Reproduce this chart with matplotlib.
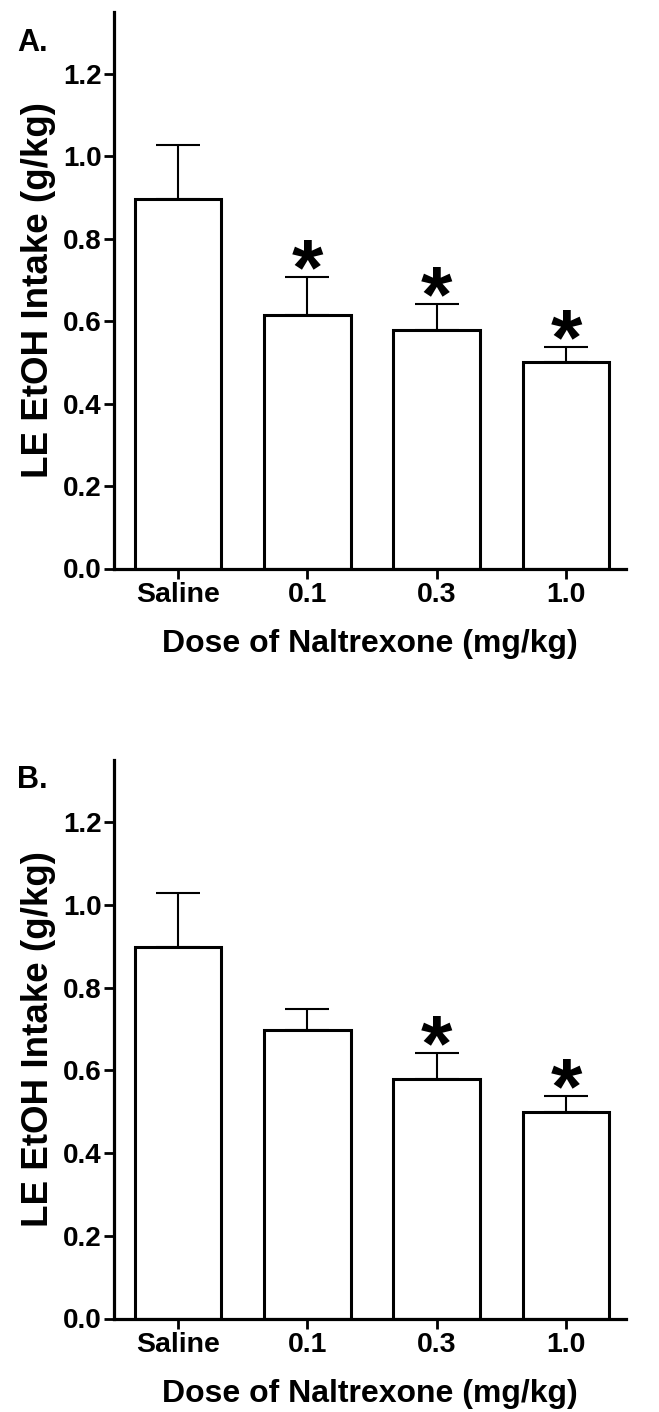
import matplotlib
matplotlib.use("Agg")
import matplotlib.pyplot as plt
import matplotlib.transforms as mtransforms
from matplotlib.textpath import TextPath
from matplotlib.font_manager import FontProperties
import numpy as np

plt.rcParams['font.family'] = ['Liberation Sans', 'DejaVu Sans']
plt.rcParams['font.weight'] = 'bold'

categories = ["Saline", "0.1", "0.3", "1.0"]
means_A = [0.897, 0.615, 0.578, 0.50]
sem_A = [0.13, 0.093, 0.063, 0.038]
sig_A = [False, True, True, True]

means_B = [0.898, 0.698, 0.578, 0.50]
sem_B = [0.13, 0.051, 0.063, 0.038]
sig_B = [False, False, True, True]

yticks = [0.0, 0.2, 0.4, 0.6, 0.8, 1.0, 1.2]

W, H = 659, 1412
DPI = 100
fig = plt.figure(figsize=(W / DPI, H / DPI), dpi=DPI)

def px_axes(left, top, right, bottom):
    return [left / W, 1 - bottom / H, (right - left) / W, (bottom - top) / H]

# star glyph metrics for sizing/placement
fp = FontProperties(family=['Liberation Sans'], weight='bold')
tp = TextPath((0, 0), "*", size=100, prop=fp)
ext = tp.get_extents()
star_w_pt = 31 * 72 / DPI
star_fs = 100 * star_w_pt / ext.width
sc = star_fs / 100
gap_pt = 8 * 72 / DPI

panels = [
    ("A.", means_A, sem_A, sig_A, px_axes(114, 12, 626, 568.5), 28),
    ("B.", means_B, sem_B, sig_B, px_axes(114, 760, 626, 1318.5), 765),
]

for label, means, sems, sigs, rect, label_top in panels:
    ax = fig.add_axes(rect)
    x = np.arange(len(categories))
    ax.bar(x, means, width=0.67, color='white', edgecolor='black', linewidth=2.2, zorder=2)
    ax.errorbar(x, means, yerr=[np.zeros(len(sems)), sems], fmt='none', ecolor='black',
                elinewidth=1.5, capsize=16, capthick=1.5, zorder=1)
    for xi, m, s, sg in zip(x, means, sems, sigs):
        if sg:
            tr = mtransforms.offset_copy(ax.transData, fig=fig,
                                         x=-(ext.x0 + ext.width / 2) * sc,
                                         y=gap_pt - ext.y0 * sc, units='points')
            ax.text(xi, m + s, "*", ha='left', va='baseline', fontsize=star_fs,
                    fontweight='bold', transform=tr)
    ax.set_xlim(-0.495, 3.464)
    ax.set_ylim(0, 1.35)
    ax.set_yticks(yticks)
    ax.set_yticklabels([f"{t:.1f}" for t in yticks], fontsize=20, fontweight='bold')
    ax.set_xticks(x)
    ax.set_xticklabels(categories, fontsize=20.5, fontweight='bold')
    for sp in ['top', 'right']:
        ax.spines[sp].set_visible(False)
    for sp in ['left', 'bottom']:
        ax.spines[sp].set_linewidth(2.3)
    ax.tick_params(axis='y', direction='out', length=7, width=2, pad=2)
    ax.tick_params(axis='x', direction='out', length=7, width=2, pad=3)
    ax.set_ylabel("LE EtOH Intake (g/kg)", fontsize=26.5, fontweight='bold', labelpad=5)
    ax.set_xlabel("Dose of Naltrexone (mg/kg)", fontsize=23, fontweight='bold', labelpad=15)
    fig.text(17 / W, 1 - label_top / H, label, fontsize=22, fontweight='bold',
             ha='left', va='top')

fig.savefig("out.png", dpi=DPI)
